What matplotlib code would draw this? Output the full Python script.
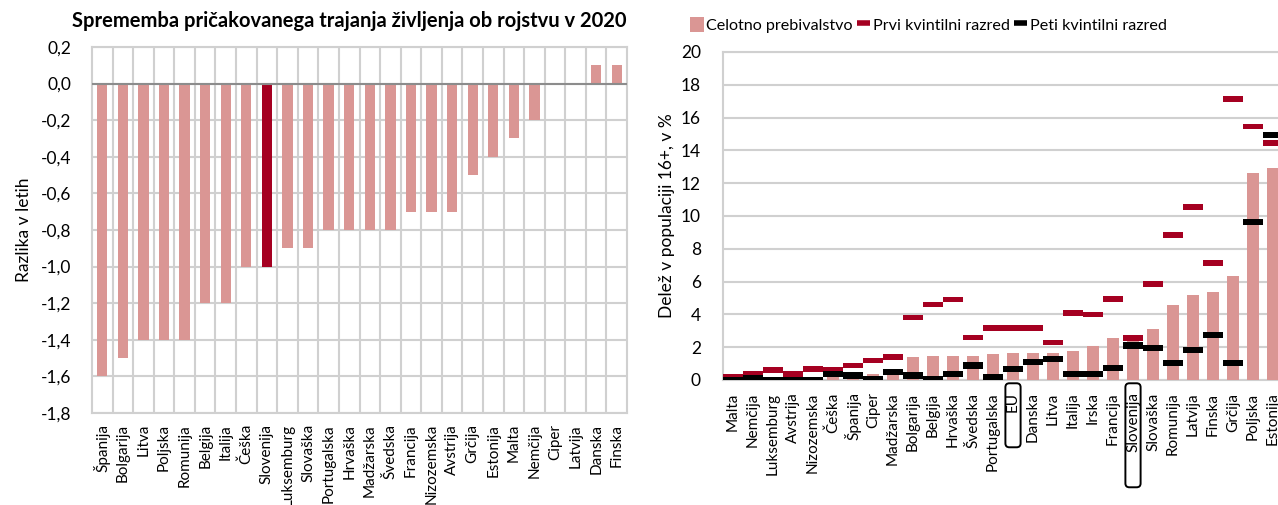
import matplotlib
matplotlib.use("Agg")
import matplotlib.pyplot as plt
from matplotlib.patches import FancyBboxPatch, Patch
from matplotlib.lines import Line2D
from matplotlib.ticker import FixedLocator, FuncFormatter
import matplotlib.transforms as mtransforms

# ---------------- data ----------------
left_countries = ["Španija", "Bolgarija", "Litva", "Poljska", "Romunija", "Belgija", "Italija",
                  "Češka", "Slovenija", "Luksemburg", "Slovaška", "Portugalska", "Hrvaška",
                  "Madžarska", "Švedska", "Francija", "Nizozemska", "Avstrija", "Grčija",
                  "Estonija", "Malta", "Nemčija", "Ciper", "Latvija", "Danska", "Finska"]
left_values = [-1.6, -1.5, -1.4, -1.4, -1.4, -1.2, -1.2, -1.0, -1.0, -0.9, -0.9, -0.8, -0.8,
               -0.8, -0.8, -0.7, -0.7, -0.7, -0.5, -0.4, -0.3, -0.2, 0.0, 0.0, 0.1, 0.1]
left_highlight = "Slovenija"
left_title = "Sprememba pričakovanega trajanja življenja ob rojstvu v 2020"
left_ylabel = "Razlika v letih"
left_yticks = [0.2, 0.0, -0.2, -0.4, -0.6, -0.8, -1.0, -1.2, -1.4, -1.6, -1.8]

right_countries = ["Malta", "Nemčija", "Luksemburg", "Avstrija", "Nizozemska", "Češka", "Španija",
                   "Ciper", "Madžarska", "Bolgarija", "Belgija", "Hrvaška", "Švedska",
                   "Portugalska", "EU", "Danska", "Litva", "Italija", "Irska", "Francija",
                   "Slovenija", "Slovaška", "Romunija", "Latvija", "Finska", "Grčija",
                   "Poljska", "Estonija"]
total_pop = [0.05, 0.1, 0.05, 0.1, 0.15, 0.3, 0.3, 0.35, 0.6, 1.4, 1.47, 1.47, 1.47, 1.57,
             1.65, 1.65, 1.65, 1.78, 2.08, 2.55, 2.65, 3.1, 4.6, 5.2, 5.35, 6.35, 12.6, 12.95]
first_quint = [0.22, 0.4, 0.6, 0.38, 0.67, 0.6, 0.88, 1.18, 1.39, 3.8, 4.6, 4.9, 2.6, 3.18,
               3.18, 3.18, 2.29, 4.08, 4.0, 4.95, 2.55, 5.85, 8.85, 10.55, 7.15, 17.15,
               15.45, 14.45]
fifth_quint = [0.0, 0.1, 0.0, 0.0, 0.0, 0.37, 0.27, 0.08, 0.47, 0.27, 0.08, 0.37, 0.88, 0.18,
               0.67, 1.08, 1.29, 0.37, 0.37, 0.72, 2.1, 1.95, 1.05, 1.85, 2.75, 1.05,
               9.65, 14.95]
right_boxed = ["EU", "Slovenija"]
right_ylabel = "Delež v populaciji 16+, v %"
right_legend = ["Celotno prebivalstvo", "Prvi kvintilni razred", "Peti kvintilni razred"]
right_yticks = [0, 2, 4, 6, 8, 10, 12, 14, 16, 18, 20]

# ---------------- style ----------------
PINK = "#DA9694"
DARKRED = "#A50021"
GRID = "#D0D0D0"
FONT = ["Lato", "DejaVu Sans"]
plt.rcParams["font.family"] = FONT
TICK_FS = 12.5
XT_FS = 11

W, H = 1278, 505
fig = plt.figure(figsize=(W / 100, H / 100), dpi=100)

def fbox(x0, y0, x1, y1):
    return [x0 / W, 1 - y1 / H, (x1 - x0) / W, (y1 - y0) / H]

# ================= left chart =================
ax1 = fig.add_axes(fbox(92, 47, 627, 413))
xs = list(range(len(left_countries)))
colors = [DARKRED if c == left_highlight else PINK for c in left_countries]
ax1.bar(xs, left_values, width=0.5, color=colors, zorder=3)
ax1.set_xlim(-0.5, len(left_countries) - 0.5)
ax1.set_ylim(min(left_yticks), max(left_yticks))
ax1.yaxis.set_major_locator(FixedLocator(left_yticks))
ax1.yaxis.set_major_formatter(FuncFormatter(lambda v, p: f"{v:.1f}".replace(".", ",").replace("-0,0", "0,0")))
ax1.set_xticks(xs)
ax1.set_xticklabels(left_countries, rotation=90, fontsize=XT_FS, va="top", ha="center")
ax1.xaxis.set_minor_locator(FixedLocator([i + 0.5 for i in range(len(left_countries) - 1)]))
ax1.grid(True, which="major", axis="y", color=GRID, lw=1.5, zorder=0)
ax1.grid(True, which="minor", axis="x", color=GRID, lw=1.5, zorder=0)
ax1.axhline(0, color="#8C8C8C", lw=1.5, zorder=4)
ax1.tick_params(axis="both", which="both", length=0)
ax1.tick_params(axis="y", labelsize=TICK_FS, pad=15)
ax1.tick_params(axis="x", pad=8)
for s in ax1.spines.values():
    s.set_color(GRID)
    s.set_linewidth(1.5)
ax1.set_ylabel(left_ylabel, fontsize=TICK_FS, labelpad=6)
fig.text(349 / W, 1 - 21 / H, left_title, ha="center", va="center",
         fontsize=14.5, fontweight="bold")

# ================= right chart =================
ax2 = fig.add_axes(fbox(723, 52, 1283, 380))
xr = list(range(len(right_countries)))
ax2.bar(xr, total_pop, width=0.6, color=PINK, zorder=3)
th_r, th_b = 0.34, 0.38
ax2.bar(xr, [th_r] * len(xr), bottom=[v - th_r / 2 for v in first_quint], width=1.04,
        color=DARKRED, zorder=4)
ax2.bar(xr, [th_b] * len(xr), bottom=[v - th_b / 2 for v in fifth_quint], width=1.04,
        color="black", zorder=5)
ax2.set_xlim(-0.5, len(right_countries) - 0.5)
ax2.set_ylim(0, 20)
ax2.yaxis.set_major_locator(FixedLocator(right_yticks))
ax2.set_xticks(xr)
ax2.set_xticklabels(right_countries, rotation=90, fontsize=XT_FS, va="top", ha="center")
ax2.grid(True, axis="y", color=GRID, lw=1.5, zorder=0)
ax2.tick_params(axis="both", which="both", length=0)
ax2.tick_params(axis="y", labelsize=TICK_FS, pad=16)
ax2.tick_params(axis="x", pad=9)
for k, s in ax2.spines.items():
    s.set_color(GRID)
    s.set_linewidth(1.5)
ax2.spines["right"].set_visible(False)
ax2.set_ylabel(right_ylabel, fontsize=TICK_FS, labelpad=4)

# rounded boxes around highlighted labels
trans = mtransforms.blended_transform_factory(ax2.transData, ax2.transAxes)
box_heights = {"EU": 64 / 328, "Slovenija": 104 / 328}
for name in right_boxed:
    i = right_countries.index(name)
    hgt = box_heights[name]
    p = FancyBboxPatch((i - 0.38, -0.01 - hgt), 0.76, hgt,
                       boxstyle="round,pad=0,rounding_size=0.2",
                       mutation_aspect=0.06, transform=trans, clip_on=False,
                       facecolor="none", edgecolor="black", lw=1.4, zorder=6)
    ax2.add_patch(p)

handles = [Patch(facecolor=PINK, edgecolor="none"),
           Line2D([], [], color=DARKRED, lw=4, solid_capstyle="butt"),
           Line2D([], [], color="black", lw=4, solid_capstyle="butt")]
fig.legend(handles, right_legend, loc="center left", bbox_to_anchor=(690 / W, 1 - 25 / H),
           ncol=3, frameon=False, fontsize=11.6, handlelength=0.85, handleheight=1.0,
           handletextpad=0.15, columnspacing=0.25, borderpad=0, borderaxespad=0)

fig.savefig("out.png", dpi=100)
